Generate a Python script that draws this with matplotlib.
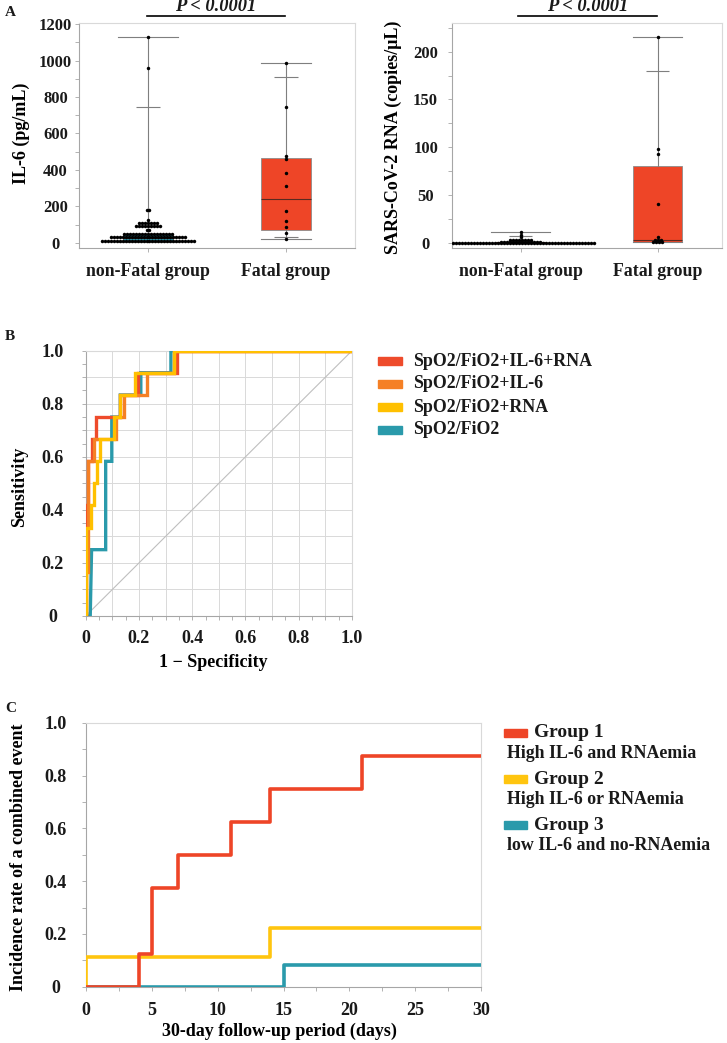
import matplotlib
matplotlib.use("Agg")
import matplotlib.pyplot as plt
import numpy as np
from matplotlib.patches import Rectangle
from matplotlib.ticker import MultipleLocator, FuncFormatter

W, H = 727, 1043

# ---------------- panel A: IL-6 and RNAemia by outcome ----------------
GROUPS = ["non-Fatal group", "Fatal group"]

IL6_NONFATAL_LEVELS = [1130, 960, 178, 127, 108, 90, 68, 50, 33, 12]
IL6_NONFATAL_COUNTS = [1, 1, 2, 1, 7, 9, 2, 17, 26, 32]
IL6_FATAL_LEVELS = [985, 745, 475, 458, 385, 310, 175, 120, 88, 52, 22]
IL6_FATAL_COUNTS = [1] * 11
IL6_BOX = [
    dict(q1=10, med=25, q3=50, whislo=5, whishi=1130),
    dict(q1=72, med=240, q3=465, whislo=20, whishi=985),
]
IL6_INNER_CAPS = [[745], [913, 30]]

RNA_NONFATAL_LEVELS = [11, 8, 6, 2.5, 1.2, 0]
RNA_NONFATAL_COUNTS = [1, 1, 1, 8, 14, 50]
RNA_FATAL_LEVELS = [215, 98, 93, 41, 6.5, 3, 1]
RNA_FATAL_COUNTS = [1, 1, 1, 1, 1, 3, 4]
RNA_BOX = [
    dict(q1=0, med=0.5, q3=1.2, whislo=0, whishi=11),
    dict(q1=0.8, med=3, q3=80, whislo=0.5, whishi=215),
]
RNA_INNER_CAPS = [[7.5], [180]]

# ---------------- panel B: ROC curves ----------------
ROC_LABELS = ["SpO2/FiO2+IL-6+RNA", "SpO2/FiO2+IL-6", "SpO2/FiO2+RNA", "SpO2/FiO2"]
ROC_FPR = [
    [0, 0, 0.001, 0.001, 0.01, 0.01, 0.022, 0.022, 0.04, 0.04, 0.13, 0.13, 0.197, 0.197, 0.342, 0.342, 1.0],
    [0, 0, 0.0075, 0.0075, 0.03, 0.03, 0.113, 0.113, 0.145, 0.145, 0.229, 0.229, 0.33, 0.33, 1.0],
    [0, 0.001, 0.001, 0.02, 0.02, 0.031, 0.031, 0.041, 0.041, 0.054, 0.054, 0.105, 0.105, 0.13, 0.13,
     0.185, 0.185, 0.33, 0.33, 1.0],
    [0, 0.017, 0.022, 0.075, 0.075, 0.098, 0.098, 0.13, 0.13, 0.207, 0.207, 0.32, 0.32, 1.0],
]
ROC_TPR = [
    [0, 0.333, 0.333, 0.417, 0.417, 0.583, 0.583, 0.667, 0.667, 0.75, 0.75, 0.833, 0.833, 0.917, 0.917, 1.0, 1.0],
    [0, 0.167, 0.167, 0.583, 0.583, 0.667, 0.667, 0.75, 0.75, 0.833, 0.833, 0.917, 0.917, 1.0, 1.0],
    [0, 0, 0.333, 0.333, 0.417, 0.417, 0.5, 0.5, 0.583, 0.583, 0.667, 0.667, 0.75, 0.75, 0.833,
     0.833, 0.917, 0.917, 1.0, 1.0],
    [0, 0, 0.25, 0.25, 0.583, 0.583, 0.75, 0.75, 0.833, 0.833, 0.917, 0.917, 1.0, 1.0],
]
ROC_COLORS = ["#EE4B2B", "#F58025", "#FFC000", "#2A9AAB"]
ROC_DRAW_ORDER = [3, 0, 1, 2]

# ---------------- panel C: cumulative incidence ----------------
KM_NAMES = ["Group 1", "Group 2", "Group 3"]
KM_DESC = ["High IL-6 and RNAemia", "High IL-6 or RNAemia", "low IL-6 and no-RNAemia"]
KM_DAYS = [
    [0, 4, 5, 7, 11, 14, 21, 30],
    [0, 0, 14, 30],
    [0, 15, 30],
]
KM_RATE = [
    [0, 0.125, 0.375, 0.5, 0.625, 0.75, 0.875, 0.875],
    [0, 0.111, 0.222, 0.222],
    [0, 0.083, 0.083],
]
KM_COLORS = ["#EE4527", "#FFC50F", "#2A9AAB"]
KM_DRAW_ORDER = [2, 1, 0]

BOX_COLORS = ["#2E9AB0", "#EE4527"]
FRAME_LIGHT = "#D9D9D9"
FRAME_DARK = "#A6A6A6"

plt.rcParams["font.family"] = ["Liberation Serif", "DejaVu Serif"]
plt.rcParams["font.weight"] = "bold"
plt.rcParams["axes.labelweight"] = "bold"
plt.rcParams["text.color"] = "#1A1A1A"
plt.rcParams["xtick.labelcolor"] = "#1A1A1A"
plt.rcParams["ytick.labelcolor"] = "#1A1A1A"


def px_axes(fig, x0, y0, x1, y1):
    return fig.add_axes([x0 / W, 1 - y1 / H, (x1 - x0) / W, (y1 - y0) / H])


def frame(ax):
    for side in ["top", "right"]:
        ax.spines[side].set_color(FRAME_LIGHT)
        ax.spines[side].set_linewidth(0.8)
    for side in ["left", "bottom"]:
        ax.spines[side].set_color(FRAME_DARK)
        ax.spines[side].set_linewidth(0.8)
    ax.tick_params(which="both", color=FRAME_DARK, length=3, width=0.6)


def center_yticklabels(ax, pad):
    ax.tick_params(axis="y", which="major", pad=pad)
    for lab in ax.get_yticklabels():
        lab.set_horizontalalignment("center")


def place_ylabel(ax, text, x, y, size):
    ax.set_ylabel(text, fontsize=size, va="center")
    ax.yaxis.set_label_coords(x, y)


def place_xlabel(ax, text, x, y, size):
    ax.set_xlabel(text, fontsize=size, va="center")
    ax.xaxis.set_label_coords(x, y)


def swarm_x(center, counts, step):
    return np.concatenate([center + (np.arange(n) - (n - 1) / 2) * step for n in counts])


def box_panel(ax, boxes, inner_caps, levels, counts, ylim, major, minor, step, xlim):
    stats = [dict(b, fliers=[]) for b in boxes]
    bp = ax.bxp(stats, positions=[1, 2], widths=0.36, capwidths=[0.43, 0.36],
                patch_artist=True, showfliers=False,
                boxprops=dict(linewidth=0.6, edgecolor="#8C8C8C"),
                medianprops=dict(color="#5A2A20", linewidth=0.8),
                whiskerprops=dict(color="#7F7F7F", linewidth=0.8),
                capprops=dict(color="#7F7F7F", linewidth=0.8))
    for patch, c in zip(bp["boxes"], BOX_COLORS):
        patch.set_facecolor(c)
    for pos, caps in zip([1, 2], inner_caps):
        ax.hlines(caps, pos - 0.085, pos + 0.085, color="#7F7F7F", linewidth=0.8, zorder=2)
    for pos, lv, ct in zip([1, 2], levels, counts):
        xs = swarm_x(pos, ct, step)
        ys = np.repeat(lv, ct)
        ax.plot(xs, ys, "o", color="black", ms=2.5, mew=0, zorder=4)
    ax.set_xlim(*xlim)
    ax.set_ylim(*ylim)
    ax.yaxis.set_major_locator(MultipleLocator(major))
    ax.yaxis.set_minor_locator(MultipleLocator(minor))
    ax.set_xticks([1, 2], GROUPS, fontsize=12.8)
    ax.tick_params(axis="x", length=0, pad=8)
    ax.tick_params(axis="y", labelsize=12)
    frame(ax)


def p_bracket(ax, x0, x1):
    ax.plot([x0, x1], [1.031, 1.031], transform=ax.transAxes, color="black", lw=1.2, clip_on=False)
    ax.text((x0 + x1) / 2, 1.052, "P < 0.0001", transform=ax.transAxes, ha="center", va="baseline",
            fontsize=13.3, fontstyle="italic", fontweight="bold")


fig = plt.figure(figsize=(W / 100, H / 100), dpi=100)

# A left
ax1 = px_axes(fig, 79, 23, 355, 248)
box_panel(ax1, IL6_BOX, IL6_INNER_CAPS, [IL6_NONFATAL_LEVELS, IL6_FATAL_LEVELS],
          [IL6_NONFATAL_COUNTS, IL6_FATAL_COUNTS], (-29, 1207), 200, 100, 0.0217, (0.5, 2.5))
center_yticklabels(ax1, 14)
place_ylabel(ax1, "IL-6 (pg/mL)", -0.21, 0.51, 13)
p_bracket(ax1, 0.246, 0.746)

# A right
ax2 = px_axes(fig, 452, 23, 722, 248)
box_panel(ax2, RNA_BOX, RNA_INNER_CAPS, [RNA_NONFATAL_LEVELS, RNA_FATAL_LEVELS],
          [RNA_NONFATAL_COUNTS, RNA_FATAL_COUNTS], (-5.5, 230), 50, 25, 0.0218, (0.5, 2.47))
center_yticklabels(ax2, 16)
place_ylabel(ax2, "SARS-CoV-2 RNA (copies/\u03bcL)", -0.219, 0.49, 13)
p_bracket(ax2, 0.244, 0.759)

# B ROC
ax3 = px_axes(fig, 85.7, 350.7, 352, 616)
for v in np.arange(0.1, 1.0, 0.1):
    ax3.axvline(v, color=FRAME_LIGHT, lw=0.7, zorder=0)
    ax3.axhline(v, color=FRAME_LIGHT, lw=0.7, zorder=0)
ax3.plot([0, 1], [0, 1], color="#BFBFBF", lw=0.8, zorder=1)
for i in ROC_DRAW_ORDER:
    ax3.plot(ROC_FPR[i], ROC_TPR[i], color=ROC_COLORS[i], lw=2.4, solid_joinstyle="miter", zorder=3)
ax3.set_xlim(0, 1)
ax3.set_ylim(0, 1)
fmt = FuncFormatter(lambda v, _: "0" if abs(v) < 1e-9 else f"{v:.1f}")
for axis in (ax3.xaxis, ax3.yaxis):
    axis.set_major_locator(MultipleLocator(0.2))
    axis.set_minor_locator(MultipleLocator(0.05))
    axis.set_major_formatter(fmt)
frame(ax3)
ax3.tick_params(labelsize=13)
ax3.tick_params(axis="x", pad=7)
center_yticklabels(ax3, 21)
place_ylabel(ax3, "Sensitivity", -0.247, 0.487, 13)
place_xlabel(ax3, "1 \u2212 Specificity", 0.48, -0.174, 13)

# B legend
for k, (lab, col) in enumerate(zip(ROC_LABELS, ROC_COLORS)):
    yc = 361 + 23 * k
    fig.patches.append(Rectangle((378 / W, 1 - (yc + 4) / H), 24 / W, 8 / H, color=col,
                                 transform=fig.transFigure))
    fig.text(413 / W, 1 - yc / H, lab, fontsize=12.9, va="center", ha="left")

# C cumulative incidence
ax4 = px_axes(fig, 86, 722.7, 481, 986.7)
for i in KM_DRAW_ORDER:
    ax4.step(KM_DAYS[i], KM_RATE[i], where="post", color=KM_COLORS[i], lw=2.6, zorder=3)
ax4.set_xlim(0, 30)
ax4.set_ylim(0, 1)
ax4.xaxis.set_major_locator(MultipleLocator(5))
ax4.xaxis.set_minor_locator(MultipleLocator(2.5))
ax4.yaxis.set_major_locator(MultipleLocator(0.2))
ax4.yaxis.set_minor_locator(MultipleLocator(0.1))
ax4.yaxis.set_major_formatter(fmt)
frame(ax4)
ax4.tick_params(labelsize=13)
ax4.tick_params(axis="x", pad=8)
center_yticklabels(ax4, 19)
place_ylabel(ax4, "Incidence rate of a combined event", -0.172, 0.49, 13)
place_xlabel(ax4, "30-day follow-up period (days)", 0.49, -0.168, 13)

# C legend
for k, (name, desc, col) in enumerate(zip(KM_NAMES, KM_DESC, KM_COLORS)):
    yc = 732.7 + 46.3 * k
    fig.patches.append(Rectangle((504 / W, 1 - (yc + 4) / H), 23 / W, 8 / H, color=col,
                                 transform=fig.transFigure))
    fig.text(534 / W, 1 - yc / H, name, fontsize=14, va="center", ha="left")
    fig.text(507 / W, 1 - (yc + 20.5) / H, desc, fontsize=12.9, va="center", ha="left")

# panel letters
for letter, ypx in [("A", 13), ("B", 337), ("C", 708)]:
    fig.text(5 / W, 1 - ypx / H, letter, fontsize=11, va="center", ha="left")

fig.savefig("out.png", dpi=100)
